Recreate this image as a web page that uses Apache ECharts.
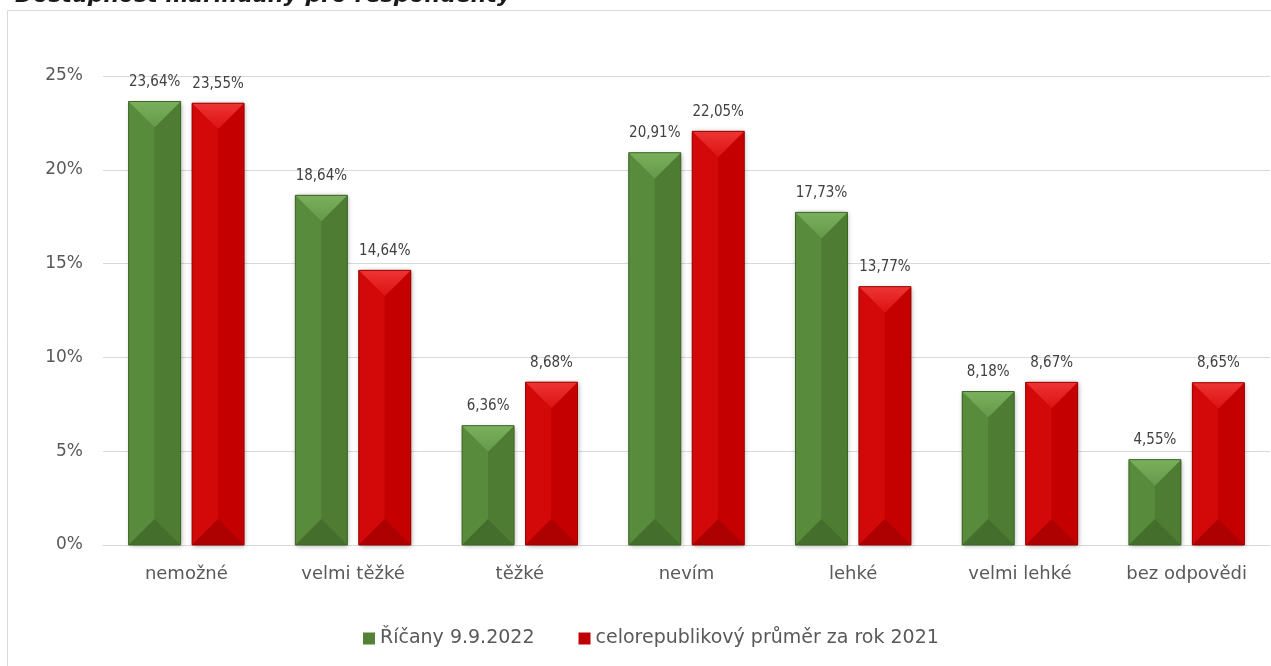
<!DOCTYPE html>
<html><head><meta charset="utf-8">
<script src="https://cdn.jsdelivr.net/npm/echarts@6/dist/echarts.min.js"></script>
<style>html,body{margin:0;padding:0;background:#fff}#c{width:1271px;height:666px}</style>
</head><body><div id="c"></div>
<script>
const categories = ['nemožné','velmi těžké','těžké','nevím','lehké','velmi lehké','bez odpovědi'];
const seriesNames = ['Říčany 9.9.2022','celorepublikový průměr za rok 2021'];
const ricany = [23.64, 18.64, 6.36, 20.91, 17.73, 8.18, 4.55];
const prumer = [23.55, 14.64, 8.68, 22.05, 13.77, 8.67, 8.65];
const yTicks = [0, 5, 10, 15, 20, 25];
const titleText = 'Dostupnost marihuany pro respondenty';

const BAR_W = 52, GAP = 0.22;
const OFF = (BAR_W + BAR_W * GAP) / 2;

const chart = echarts.init(document.getElementById('c'));
const fmt = p => p.value.toFixed(2).replace('.', ',') + '%';
const labelStyle = {show: true, position: 'top', distance: 12, formatter: fmt,
  color: '#404040', fontSize: 15, fontFamily: 'DejaVu Sans Condensed'};

const palettes = [
  {top: ['#7ab05c', '#64994a'], left: '#588b3c', right: '#4e7c33', bottom: '#446e2b', edge: '#3e6526'},
  {top: ['#ee3434', '#dc1212'], left: '#d30808', right: '#c40000', bottom: '#ad0000', edge: '#9a0000'}
];

function bevel(sIdx) {
  const pal = palettes[sIdx];
  const sign = sIdx === 0 ? -1 : 1;
  return function (params, api) {
    const cat = api.value(0), val = api.value(1);
    const base = api.coord([cat, 0]);
    const top = api.coord([cat, val]);
    const cx = base[0] + sign * OFF;
    const x0 = cx - BAR_W / 2, x1 = cx + BAR_W / 2;
    const y0 = top[1], yb = base[1];
    const h = Math.min(BAR_W / 2, (yb - y0) / 2);
    return {type: 'group', silent: true, children: [
      {type: 'polygon', shape: {points: [[x0, y0], [cx, y0 + h], [cx, yb - h], [x0, yb]]}, style: {fill: pal.left}},
      {type: 'polygon', shape: {points: [[x1, y0], [cx, y0 + h], [cx, yb - h], [x1, yb]]}, style: {fill: pal.right}},
      {type: 'polygon', shape: {points: [[x0, y0], [x1, y0], [cx, y0 + h]]},
        style: {fill: new echarts.graphic.LinearGradient(0, 0, 0, 1, [{offset: 0, color: pal.top[0]}, {offset: 1, color: pal.top[1]}])}},
      {type: 'polygon', shape: {points: [[x0, yb], [x1, yb], [cx, yb - h]]}, style: {fill: pal.bottom}},
      {type: 'rect', shape: {x: x0, y: y0, width: BAR_W, height: yb - y0}, style: {fill: 'none', stroke: pal.edge, lineWidth: 1}}
    ]};
  };
}

chart.setOption({
  animation: false,
  title: {text: titleText, left: 10, top: -20,
    textStyle: {fontSize: 22, fontWeight: 'bold', fontStyle: 'italic', color: '#1a1a1a', fontFamily: 'DejaVu Sans'}},
  graphic: [{type: 'rect', shape: {x: 7.5, y: 10.5, width: 1300, height: 700},
    style: {fill: 'none', stroke: '#d9d9d9', lineWidth: 1}, silent: true}],
  grid: {left: 103, right: 1, top: 76, bottom: 121},
  legend: {bottom: 13, left: 358, itemWidth: 12, itemHeight: 12, itemGap: 44,
    textStyle: {color: '#595959', fontSize: 19, fontFamily: 'DejaVu Sans'},
    data: [{name: seriesNames[0], icon: 'rect'}, {name: seriesNames[1], icon: 'rect'}]},
  xAxis: {type: 'category', data: categories,
    axisLine: {lineStyle: {color: '#d9d9d9', width: 1}}, axisTick: {show: false},
    axisLabel: {color: '#595959', fontSize: 18, margin: 20, fontFamily: 'DejaVu Sans'}},
  yAxis: {type: 'value', min: yTicks[0], max: yTicks[yTicks.length - 1], interval: yTicks[1] - yTicks[0],
    axisLine: {show: false}, axisTick: {show: false},
    splitLine: {lineStyle: {color: '#d9d9d9', width: 1}},
    axisLabel: {color: '#595959', fontSize: 17, margin: 20, fontFamily: 'DejaVu Sans',
      formatter: v => v + '%'}},
  series: [
    {name: seriesNames[0], type: 'bar', data: ricany, barWidth: BAR_W, barGap: (GAP * 100) + '%',
     itemStyle: {color: '#548235', shadowBlur: 5, shadowColor: 'rgba(0,0,0,0.35)', shadowOffsetX: 1, shadowOffsetY: 1},
     label: labelStyle},
    {name: seriesNames[1], type: 'bar', data: prumer, barWidth: BAR_W,
     itemStyle: {color: '#c00000', shadowBlur: 5, shadowColor: 'rgba(0,0,0,0.35)', shadowOffsetX: 1, shadowOffsetY: 1},
     label: labelStyle},
    {name: 'bevel0', type: 'custom', z: 5, silent: true, renderItem: bevel(0),
     data: ricany.map((v, i) => [i, v])},
    {name: 'bevel1', type: 'custom', z: 5, silent: true, renderItem: bevel(1),
     data: prumer.map((v, i) => [i, v])}
  ]
});
</script></body></html>
